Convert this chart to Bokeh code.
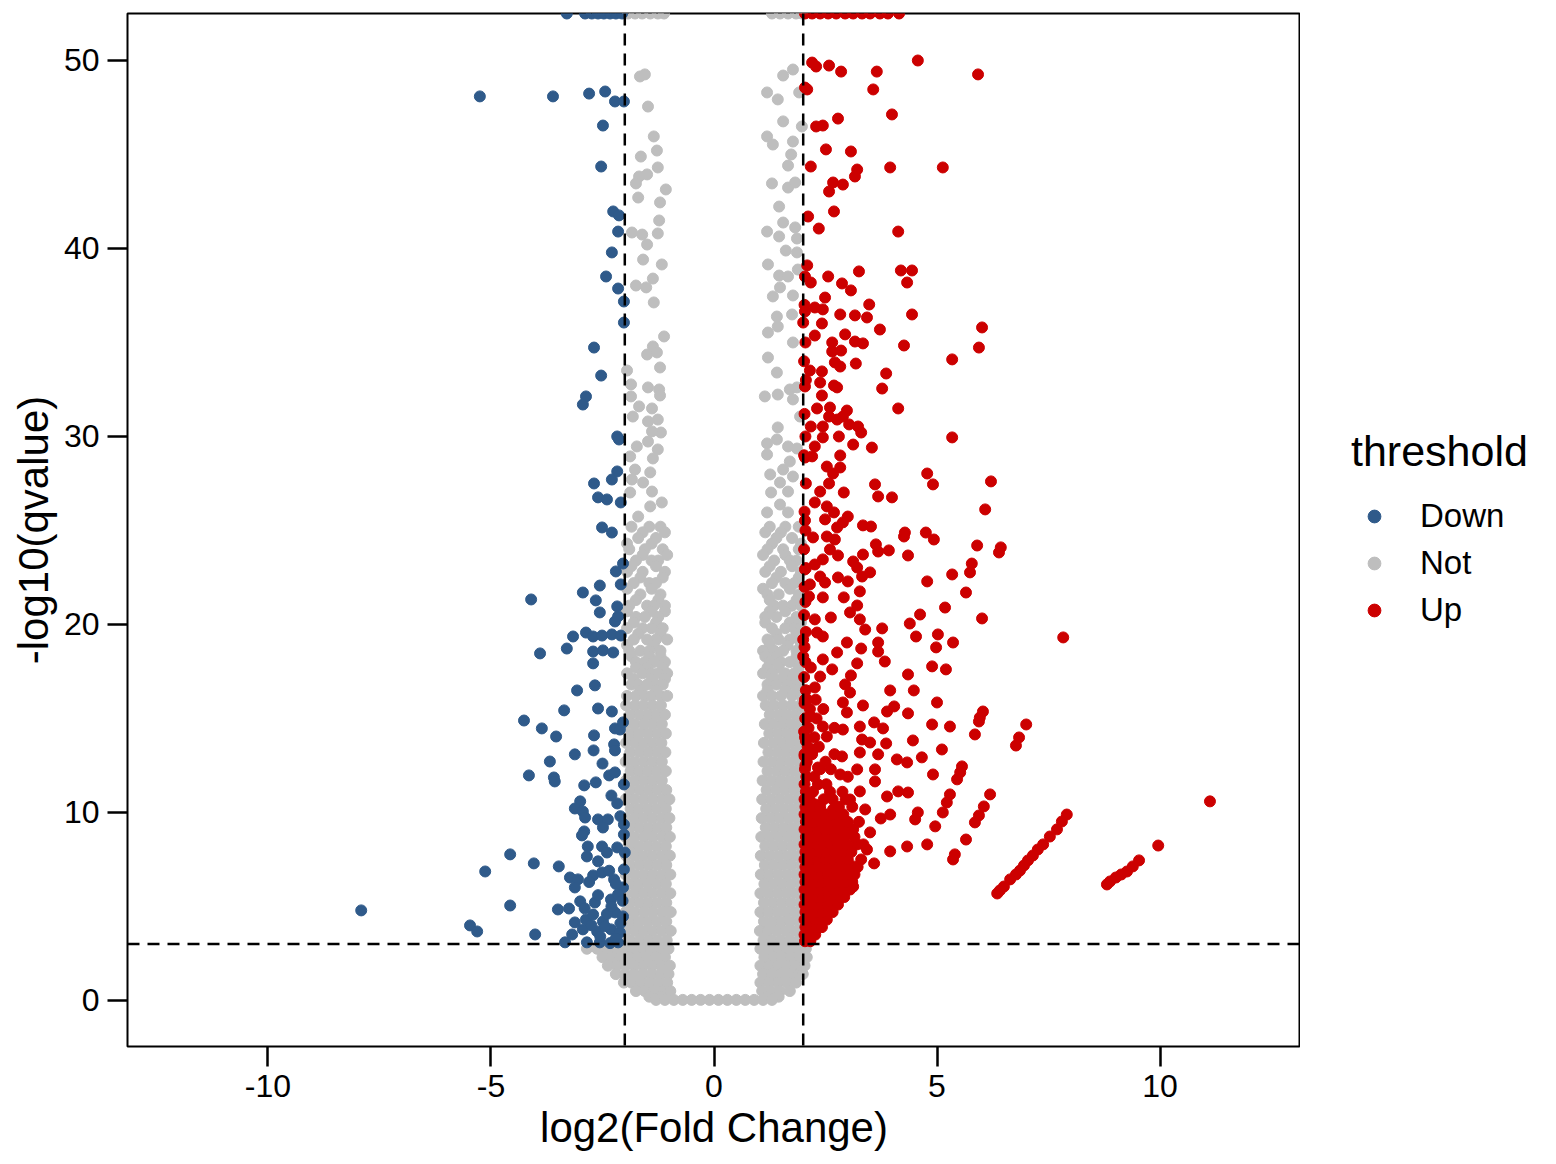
from bokeh.plotting import figure
from bokeh.layouts import row
from bokeh.models import Span, Legend, LegendItem, FixedTicker
from bokeh.embed import file_html
from bokeh.resources import INLINE

FONT = "Liberation Sans"

# cut-offs drawn as dashed lines
fc_cut = 2
q_cut = 3

x_ticks = [-10, -5, 0, 5, 10]
y_ticks = [0, 10, 20, 30, 40, 50]

groups = ["Down", "Not", "Up"]
colors = ["#2F5A8A", "#BEBEBE", "#CC0000"]

# points, (log2FC, -log10 q); 52.5 = pinned to the top edge
down_pts = [
    (-3.30, 52.5), (-2.89, 52.5), (-2.74, 52.5), (-2.60, 52.5), (-2.47, 52.5), (-2.33, 52.5), (-2.20, 52.5), (-2.06, 52.5),
    (-5.25, 48.09), (-3.61, 48.09), (-2.80, 48.24), (-2.44, 48.35), (-2.22, 47.82), (-2.02, 47.82), (-2.49, 46.54), (-2.53, 44.36),
    (-2.26, 41.97), (-2.13, 41.76), (-2.15, 40.90), (-2.29, 39.79), (-2.42, 38.51), (-2.15, 37.87), (-2.02, 37.18), (-2.02, 36.06),
    (-2.69, 34.73), (-2.53, 33.24), (-2.87, 32.13), (-2.94, 31.70), (-2.17, 30.00), (-2.13, 29.84), (-2.17, 28.14), (-2.29, 27.71),
    (-2.69, 27.50), (-2.60, 26.76), (-2.40, 26.65), (-2.09, 26.49), (-2.51, 25.16), (-2.29, 24.89), (-2.04, 23.24), (-2.20, 22.82),
    (-2.09, 22.13), (-2.94, 21.70), (-2.56, 22.07), (-4.10, 21.33), (-2.65, 21.28), (-2.56, 20.64), (-2.17, 20.96), (-2.22, 20.16),
    (-2.15, 20.43), (-2.87, 19.57), (-3.16, 19.36), (-2.71, 19.36), (-2.51, 19.41), (-2.29, 19.47), (-2.09, 19.41), (-3.30, 18.72),
    (-3.90, 18.46), (-2.71, 18.56), (-2.49, 18.62), (-2.26, 18.51), (-2.71, 17.93), (-3.07, 16.49), (-2.67, 16.76), (-3.36, 15.43),
    (-4.26, 14.89), (-2.60, 15.53), (-2.29, 15.37), (-3.86, 14.47), (-3.54, 14.04), (-2.69, 14.10), (-2.22, 14.47), (-2.11, 14.41),
    (-2.04, 14.79), (-2.24, 13.62), (-2.22, 13.30), (-3.12, 13.09), (-3.68, 12.71), (-4.15, 11.97), (-3.59, 11.86), (-3.57, 11.65),
    (-2.35, 11.97), (-2.22, 12.13), (-2.91, 11.44), (-2.65, 11.60), (-2.02, 11.49), (-3.00, 10.59), (-3.12, 10.21), (-2.94, 10.05),
    (-2.89, 9.73), (-2.17, 10.48), (-2.60, 9.63), (-2.38, 9.63), (-2.49, 9.20), (-2.02, 9.36), (-2.91, 8.99), (-2.96, 8.78),
    (-2.02, 8.83), (-2.83, 8.19), (-2.85, 7.66), (-2.51, 8.19), (-2.40, 7.87), (-2.17, 8.14), (-2.00, 7.87), (-4.57, 7.77),
    (-5.13, 6.86), (-4.04, 7.29), (-3.48, 7.13), (-3.23, 6.54), (-3.05, 6.44), (-3.12, 6.01), (-2.71, 6.65), (-2.51, 6.81),
    (-2.24, 6.44), (-2.02, 6.97), (-2.04, 6.01), (-3.00, 5.27), (-7.91, 4.79), (-4.57, 5.05), (-3.50, 4.84), (-3.25, 4.89),
    (-2.67, 5.21), (-2.31, 5.37), (-2.15, 5.64), (-3.12, 4.15), (-2.87, 4.31), (-2.71, 4.57), (-2.49, 4.20), (-2.22, 4.68),
    (-2.04, 4.47), (-5.47, 3.99), (-5.31, 3.67), (-4.01, 3.51), (-3.18, 3.51), (-2.94, 3.78), (-2.62, 3.67), (-2.31, 3.78),
    (-2.11, 3.62), (-3.34, 3.09), (-2.85, 3.09), (-2.56, 3.09), (-2.33, 3.05), (-2.15, 3.09),
    (-2.75, 4.0), (-2.55, 3.4), (-2.4, 4.6), (-2.2, 3.3), (-2.1, 4.1), (-2.3, 5.0), (-2.6, 5.6), (-2.9, 4.9),
    (-2.45, 3.95), (-2.05, 5.3), (-2.2, 6.2), (-2.8, 6.3), (-2.35, 6.9), (-2.6, 7.4), (-2.1, 9.8), (-2.3, 10.9),
    (-2.5, 12.6), (-2.7, 13.3),
]

not_pts = [
    (-1.93, 52.5), (-1.77, 52.5), (-1.61, 52.5), (-1.43, 52.5), (-1.26, 52.5), (-1.12, 52.5),
    (1.30, 52.5), (1.48, 52.5), (1.66, 52.5), (1.84, 52.5), (1.97, 52.5),
    (-1.66, 49.15), (-1.55, 49.26), (-1.48, 47.55), (-1.35, 45.96), (-1.28, 45.21), (-1.64, 44.89), (-1.26, 44.31),
    (-1.50, 43.94), (-1.68, 43.83), (-1.75, 43.46), (-1.08, 43.14), (-1.70, 42.71), (-1.21, 42.45), (-1.23, 41.49),
    (-1.84, 40.85), (-1.61, 40.74), (-1.26, 40.80), (-1.50, 40.21), (-1.59, 39.41), (-1.17, 39.15), (-1.37, 38.40),
    (-1.75, 38.03), (-1.52, 37.93), (-1.35, 37.13), (-1.12, 35.32), (-1.37, 34.79), (-1.50, 34.36), (-1.28, 34.47),
    (-1.21, 33.67), (-1.95, 33.51), (-1.86, 32.77), (-1.48, 32.61), (-1.23, 32.50), (-1.21, 32.18), (-1.86, 32.13),
    (-1.68, 31.60), (-1.39, 31.49), (-1.82, 31.06), (-1.48, 30.80), (-1.26, 30.90), (-1.19, 30.21), (-1.39, 30.27),
    (-1.73, 29.47), (-1.48, 29.73), (-1.26, 29.31), (-1.88, 28.94), (-1.37, 28.83), (-1.77, 28.24), (-1.43, 28.09),
    (-1.84, 27.71), (-1.59, 27.55), (-1.39, 27.07), (-1.88, 27.02), (-1.17, 26.49), (-1.43, 26.28), (-1.70, 25.74),
    (1.55, 49.20), (1.77, 49.52), (1.91, 48.30), (1.19, 48.30), (1.43, 47.93), (1.55, 46.76), (1.97, 46.49),
    (1.19, 45.96), (1.32, 45.53), (1.77, 45.69), (1.73, 45.00), (1.66, 44.41), (1.30, 43.46), (1.66, 43.24),
    (1.82, 43.51), (1.46, 42.23), (1.55, 41.38), (1.19, 40.90), (1.46, 40.64), (1.82, 41.12), (1.86, 40.53),
    (1.61, 39.89), (1.86, 39.79), (1.21, 39.15), (1.88, 38.88), (1.46, 38.56), (1.66, 38.51), (1.48, 37.93),
    (1.32, 37.45), (1.77, 37.50), (1.75, 36.49), (1.41, 36.38), (1.43, 35.85), (1.21, 35.53), (1.77, 35.00),
    (1.21, 34.20), (1.41, 33.40), (1.14, 32.13), (1.43, 32.23), (1.70, 32.50), (1.86, 32.61), (1.77, 31.97),
    (1.93, 31.06), (1.43, 30.48), (1.19, 29.63), (1.41, 29.84), (1.66, 29.47), (1.86, 29.36), (1.19, 29.04),
    (1.70, 28.67), (1.55, 28.24), (1.26, 27.98), (1.77, 27.87), (1.48, 27.55), (1.28, 27.02), (1.66, 27.07),
    (1.48, 26.38), (1.19, 25.96), (1.66, 25.96),
]

# the crowded lower part of the "Not" V, read row by row: (-log10 q, [log2FC, ...])
not_rows = [
    (25.2, [-1.85, -1.45, -1.2, 1.25, 1.6, 1.9]),
    (24.9, [-1.6, -1.1, 1.15, 1.5]),
    (24.6, [-1.7, -1.3, 1.4, 1.75]),
    (24.3, [-1.95, -1.4, 1.3, 1.95]),
    (24.0, [-1.9, -1.55, -1.15, 1.2, 1.55, 1.9]),
    (23.7, [-1.6, -1.05, 1.1, 1.6]),
    (23.4, [-1.75, -1.4, -1.25, 1.35, 1.7, 1.85]),
    (23.1, [-1.85, -1.3, 1.25, 1.75]),
    (22.8, [-1.95, -1.6, -1.1, 1.15, 1.5, 1.95]),
    (22.5, [-1.65, -1.15, 1.4, 1.9]),
    (22.2, [-1.8, -1.45, -1.3, 1.3, 1.6, 1.8]),
    (21.9, [-1.95, -1.4, 1.1, 1.7]),
    (21.6, [-1.65, -1.2, 1.2, 1.45, 1.9]),
    (21.3, [-1.75, -1.25, 1.25, 1.85]),
    (21.0, [-1.9, -1.5, -1.35, -1.1, 1.35, 1.55, 1.75, 1.95]),
    (20.7, [-1.95, -1.4, -1.1, 1.25, 1.6]),
    (20.4, [-1.75, -1.55, -1.25, 1.15, 1.4, 1.85]),
    (20.1, [-1.8, -1.3, 1.15, 1.7, 1.95]),
    (19.8, [-1.95, -1.6, -1.4, -1.15, 1.3, 1.6, 1.8, 1.95]),
    (19.5, [-1.7, -1.2, 1.4, 1.85]),
    (19.2, [-1.8, -1.5, -1.3, -1.05, 1.2, 1.45, 1.7, 1.9]),
    (18.9, [-1.95, -1.35, 1.25, 1.65, 1.95]),
    (18.6, [-1.9, -1.65, -1.45, -1.2, 1.1, 1.35, 1.55, 1.85]),
    (18.3, [-1.85, -1.45, -1.2, 1.15, 1.4, 1.85]),
    (18.0, [-1.75, -1.55, -1.35, -1.1, 1.25, 1.5, 1.7, 1.95]),
    (17.7, [-1.75, -1.5, -1.15, 1.2, 1.45, 1.9]),
    (17.4, [-1.95, -1.6, -1.4, -1.25, -1.05, 1.1, 1.3, 1.6, 1.8]),
    (17.1, [-1.8, -1.4, -1.1, 1.3, 1.5, 1.75]),
    (16.8, [-1.85, -1.7, -1.5, -1.3, -1.15, 1.2, 1.4, 1.65, 1.9]),
    (16.5, [-1.65, -1.3, 1.2, 1.6, 1.85]),
    (16.2, [-1.95, -1.75, -1.55, -1.4, -1.2, -1.05, 1.1, 1.3, 1.5, 1.75, 1.95]),
    (15.7, [-1.97, -1.77, -1.58, -1.38, -1.19, 1.16, 1.35, 1.55, 1.74, 1.93]),
    (15.2, [-1.88, -1.67, -1.47, -1.28, -1.1, 1.25, 1.45, 1.64, 1.84, 1.98]),
    (14.7, [-1.98, -1.78, -1.57, -1.37, -1.17, 1.14, 1.34, 1.54, 1.73, 1.93]),
    (14.2, [-1.87, -1.68, -1.48, -1.27, -1.08, 1.24, 1.44, 1.63, 1.83, 1.98]),
    (13.7, [-1.97, -1.77, -1.58, -1.38, -1.18, 1.12, 1.33, 1.53, 1.72, 1.92]),
    (13.2, [-1.88, -1.67, -1.47, -1.27, -1.09, 1.22, 1.43, 1.62, 1.82, 1.98]),
    (12.7, [-1.98, -1.78, -1.57, -1.37, -1.17, 1.11, 1.31, 1.51, 1.71, 1.91]),
    (12.2, [-1.87, -1.68, -1.48, -1.28, -1.08, 1.2, 1.41, 1.6, 1.8, 1.97]),
    (11.7, [-1.97, -1.77, -1.58, -1.38, -1.17, 1.09, 1.29, 1.5, 1.7, 1.9]),
    (11.2, [-1.88, -1.67, -1.47, -1.27, -1.07, 1.18, 1.39, 1.59, 1.79, 1.97]),
    (10.7, [-1.98, -1.78, -1.57, -1.37, -1.16, -1.0, 1.08, 1.28, 1.48, 1.68, 1.88]),
    (10.2, [-1.87, -1.68, -1.48, -1.28, -1.08, 1.17, 1.37, 1.57, 1.77, 1.97]),
    (9.7, [-1.97, -1.77, -1.58, -1.38, -1.17, -1.0, 1.07, 1.27, 1.47, 1.67, 1.87]),
    (9.2, [-1.88, -1.67, -1.47, -1.27, -1.07, 1.16, 1.36, 1.56, 1.76, 1.96]),
    (8.7, [-1.98, -1.78, -1.57, -1.37, -1.16, -0.99, 1.06, 1.26, 1.46, 1.66, 1.86]),
    (8.2, [-1.87, -1.68, -1.48, -1.28, -1.08, 1.15, 1.35, 1.55, 1.75, 1.95]),
    (7.7, [-1.97, -1.77, -1.58, -1.38, -1.17, -0.99, 1.05, 1.25, 1.45, 1.65, 1.85]),
    (7.2, [-1.88, -1.67, -1.47, -1.27, -1.07, 1.14, 1.34, 1.54, 1.74, 1.95]),
    (6.7, [-1.98, -1.78, -1.57, -1.37, -1.16, -0.98, 1.05, 1.24, 1.44, 1.64, 1.84]),
    (6.2, [-1.87, -1.68, -1.48, -1.28, -1.08, 1.13, 1.33, 1.53, 1.73, 1.94]),
    (5.7, [-1.97, -1.77, -1.58, -1.38, -1.17, -0.98, 1.04, 1.23, 1.43, 1.63, 1.83, 1.98]),
    (5.2, [-1.88, -1.67, -1.47, -1.27, -1.07, 1.12, 1.32, 1.52, 1.72, 1.93]),
    (4.7, [-1.98, -1.78, -1.57, -1.37, -1.16, -0.97, 1.04, 1.22, 1.42, 1.62, 1.82, 1.98]),
    (4.2, [-1.87, -1.68, -1.48, -1.28, -1.07, 1.12, 1.31, 1.51, 1.71, 1.92]),
    (3.7, [-1.97, -1.77, -1.58, -1.38, -1.17, -0.97, 1.03, 1.21, 1.41, 1.61, 1.81, 1.98]),
    (3.2, [-1.88, -1.67, -1.47, -1.27, -1.06, 1.11, 1.3, 1.5, 1.7, 1.91]),
    (2.75, [-2.85, -2.62, -2.42, -2.22, -2.02, -1.82, -1.62, -1.42, -1.22, -1.02, 1.04, 1.24, 1.44, 1.64, 1.85, 2.06]),
    (2.3, [-2.5, -2.3, -2.1, -1.9, -1.7, -1.5, -1.3, -1.1, 1.13, 1.33, 1.53, 1.73, 1.93, 2.08]),
    (1.85, [-2.38, -2.18, -1.98, -1.78, -1.58, -1.38, -1.18, -0.99, 1.04, 1.24, 1.44, 1.64, 1.84, 2.03]),
    (1.4, [-2.2, -2.0, -1.8, -1.6, -1.4, -1.2, -1.02, 1.1, 1.3, 1.5, 1.7, 1.9, 1.99]),
    (0.95, [-2.02, -1.85, -1.65, -1.45, -1.25, -1.05, 1.04, 1.24, 1.44, 1.64, 1.84]),
    (0.5, [-1.75, -1.55, -1.35, -1.15, -0.98, 1.08, 1.28, 1.48, 1.7]),
    (0.2, [-1.45, -1.2, 1.2, 1.45]),
    (0.03, [-1.3, -1.1, -0.9, -0.7, -0.5, -0.3, -0.1, 0.1, 0.3, 0.5, 0.7, 0.9, 1.1, 1.3]),
]

up_pts = [
    (2.04, 52.5), (2.20, 52.5), (2.38, 52.5), (2.56, 52.5), (2.74, 52.5), (2.94, 52.5), (3.12, 52.5), (3.32, 52.5),
    (3.50, 52.5), (3.72, 52.5), (3.90, 52.5), (4.15, 52.5),
    (2.20, 49.89), (2.29, 49.68), (2.58, 49.73), (2.85, 49.41), (3.65, 49.41), (4.57, 50.0), (5.92, 49.26), (2.04, 48.56),
    (2.09, 48.46), (3.57, 48.46), (3.99, 47.13), (2.78, 46.91), (2.29, 46.49), (2.44, 46.54), (2.51, 45.27), (3.07, 45.16),
    (2.17, 44.36), (3.21, 44.20), (3.16, 43.83), (3.95, 44.31), (5.13, 44.31), (2.67, 43.51), (2.89, 43.40), (2.58, 43.03),
    (2.69, 41.97), (2.11, 41.70), (2.35, 41.06), (4.13, 40.90), (2.09, 39.10), (2.04, 38.51), (2.17, 38.19), (2.56, 38.51),
    (3.25, 38.78), (4.19, 38.83), (4.44, 38.83), (4.33, 38.19), (2.87, 38.14), (3.07, 37.77), (2.49, 37.39), (3.48, 37.02),
    (2.04, 36.65), (2.26, 36.86), (2.44, 36.76), (2.83, 36.49), (3.16, 36.44), (3.43, 36.33), (4.44, 36.49), (2.00, 36.06),
    (2.42, 36.01), (3.72, 35.69), (6.01, 35.80), (2.26, 35.37), (2.94, 35.43), (2.65, 35.00), (3.16, 35.05), (3.34, 34.95),
    (4.26, 34.84), (5.94, 34.73), (2.65, 34.52), (2.85, 34.57), (5.34, 34.10), (2.71, 33.94), (3.18, 33.88), (2.83, 33.72),
    (2.15, 33.51), (2.42, 33.46), (3.86, 33.35), (2.38, 32.87), (2.69, 32.71), (2.76, 32.61), (3.77, 32.55), (2.04, 32.66),
    (2.42, 32.18), (2.31, 31.49), (2.60, 31.54), (2.98, 31.38), (4.13, 31.49), (2.58, 31.06), (2.76, 30.90), (2.89, 31.06),
    (2.17, 30.53), (2.44, 30.53), (3.03, 30.64), (3.23, 30.53), (3.30, 30.21), (2.44, 29.95), (2.80, 30.00), (5.34, 29.95),
    (2.26, 29.47), (3.12, 29.57), (3.54, 29.41), (2.20, 28.94), (2.83, 28.99), (2.04, 28.88), (2.53, 28.40), (2.83, 28.35),
    (2.67, 28.03), (4.78, 28.03), (2.58, 27.50), (3.61, 27.45), (4.91, 27.45), (6.21, 27.61), (2.38, 27.07), (2.91, 27.02),
    (3.68, 26.81), (3.99, 26.76), (2.26, 26.49), (2.53, 26.28), (2.69, 25.96), (2.49, 25.59), (6.08, 26.12), (2.04, 25.53),
    (3.00, 25.74), (2.89, 25.43), (2.76, 25.16), (3.34, 25.27), (3.52, 25.21), (2.22, 24.63), (2.53, 24.68), (2.71, 24.52),
    (4.28, 24.89), (4.26, 24.68), (4.75, 24.89), (4.93, 24.52), (2.60, 23.99), (3.63, 24.26), (3.68, 23.88), (3.92, 23.94),
    (5.90, 24.20), (6.43, 24.10), (6.39, 23.83), (2.78, 23.67), (3.34, 23.72), (4.35, 23.67), (2.44, 23.46), (2.26, 23.19),
    (3.12, 23.35), (3.21, 23.03), (5.78, 23.24), (5.74, 22.77), (2.04, 22.93), (2.38, 22.55), (2.78, 22.50), (3.00, 22.29),
    (3.50, 22.77), (3.32, 22.55), (5.34, 22.66), (2.15, 22.13), (2.49, 22.23), (4.78, 22.29), (3.27, 21.76), (5.65, 21.70),
    (2.13, 21.49), (2.44, 21.44), (2.91, 21.44), (3.21, 21.01), (5.18, 20.90), (3.05, 20.64), (3.27, 20.27), (3.39, 19.73),
    (3.77, 19.79), (4.62, 20.53), (4.39, 20.05), (4.53, 19.36), (6.01, 20.32), (2.26, 20.27), (2.62, 20.37), (2.31, 19.57),
    (2.44, 19.36), (2.00, 19.20), (5.02, 19.47), (4.98, 18.78), (5.36, 19.04), (2.98, 19.04), (3.30, 18.72), (3.68, 19.04),
    (3.68, 18.56), (2.76, 18.51), (2.00, 18.30), (2.44, 18.14), (2.17, 17.71), (2.65, 17.61), (3.21, 17.93), (3.83, 18.03),
    (4.89, 17.77), (5.20, 17.61), (2.38, 17.23), (3.07, 17.29), (4.35, 17.34), (2.94, 16.81), (2.26, 16.65), (3.05, 16.38),
    (3.95, 16.49), (4.48, 16.49), (2.89, 15.85), (3.34, 15.69), (3.88, 15.37), (4.04, 15.64), (5.00, 15.85), (6.03, 15.37),
    (5.96, 15.05), (5.85, 14.15), (5.94, 14.84), (2.09, 16.01), (2.17, 15.11), (2.98, 15.32), (4.35, 15.27), (2.44, 14.57),
    (3.27, 14.57), (3.59, 14.79), (3.79, 14.47), (4.89, 14.68), (5.29, 14.57), (7.00, 14.68), (6.84, 13.99), (6.77, 13.56),
    (2.53, 14.04), (2.89, 14.41), (3.32, 13.88), (3.50, 13.72), (3.86, 13.67), (4.46, 13.83), (5.11, 13.35), (2.22, 13.35),
    (2.87, 12.98), (3.27, 13.19), (3.68, 13.09), (4.10, 12.82), (4.33, 12.66), (4.66, 12.93), (5.56, 12.45), (5.52, 12.13),
    (5.45, 11.76), (4.91, 12.02), (2.33, 12.39), (2.83, 12.02), (3.21, 12.29), (3.61, 12.29), (3.61, 11.65), (3.27, 11.12),
    (3.88, 10.85), (4.13, 11.12), (4.35, 11.06), (5.29, 10.96), (5.22, 10.53), (5.13, 10.00), (6.19, 10.96), (6.05, 10.32),
    (5.94, 9.84), (5.85, 9.47), (5.65, 8.56), (5.36, 7.50), (5.40, 7.77), (2.26, 10.43), (2.67, 10.16), (3.05, 10.69),
    (3.39, 10.16), (4.57, 10.00), (4.51, 9.63), (3.74, 9.68), (3.95, 9.89), (2.31, 9.79), (2.83, 9.63), (3.12, 9.10),
    (4.96, 9.26), (4.78, 8.30), (4.33, 8.19), (3.95, 7.93), (3.59, 7.29), (3.50, 8.94), (3.21, 8.30), (2.83, 8.94),
    (2.44, 8.40), (7.91, 9.89), (7.80, 9.52), (7.69, 9.10), (7.53, 8.72), (7.38, 8.30), (7.26, 8.03), (7.15, 7.71),
    (7.04, 7.45), (6.95, 7.18), (6.86, 6.91), (6.77, 6.70), (6.64, 6.44), (6.50, 6.06), (6.41, 5.85), (6.35, 5.69),
    (7.83, 19.31), (11.12, 10.59), (9.96, 8.24), (9.53, 7.45), (9.39, 7.13), (9.26, 6.86), (9.13, 6.70), (9.01, 6.54),
    (8.88, 6.33), (8.81, 6.17), (2.15, 7.50), (2.60, 7.34), (3.12, 7.13), (3.43, 8.03), (2.83, 6.06), (3.12, 6.06),
    (2.44, 5.74),
    (2.05, 12.5), (2.03, 13.0), (2.06, 13.8), (2.02, 14.3), (2.05, 15.0), (2.03, 15.8), (2.06, 16.5), (2.02, 17.2),
    (2.05, 18.0), (2.03, 18.8), (2.06, 19.6), (2.02, 20.5), (2.05, 21.2), (2.03, 22.0), (2.06, 23.0), (2.02, 24.0),
    (2.05, 25.0), (2.03, 26.0), (2.06, 27.5), (2.02, 29.0), (2.05, 30.0), (2.03, 31.2), (2.06, 33.0), (2.02, 34.0),
    (2.05, 35.0), (2.03, 37.0),
]

# crowded base of the "Up" wedge, row by row
up_rows = [
    (3.15, [2.04, 2.16]),
    (3.5, [2.03, 2.15, 2.27]),
    (3.9, [2.05, 2.18, 2.31, 2.42]),
    (4.3, [2.03, 2.15, 2.28, 2.41, 2.53]),
    (4.7, [2.05, 2.18, 2.31, 2.44, 2.57, 2.66]),
    (5.1, [2.03, 2.16, 2.29, 2.42, 2.55, 2.68, 2.78]),
    (5.5, [2.05, 2.18, 2.31, 2.44, 2.57, 2.7, 2.83, 2.92]),
    (5.9, [2.03, 2.16, 2.29, 2.42, 2.55, 2.68, 2.81, 2.94, 3.05]),
    (6.3, [2.05, 2.18, 2.31, 2.44, 2.57, 2.7, 2.83, 2.96, 3.1]),
    (6.7, [2.03, 2.16, 2.29, 2.42, 2.55, 2.68, 2.81, 2.95, 3.15]),
    (7.1, [2.05, 2.18, 2.31, 2.45, 2.6, 2.75, 2.9, 3.05, 3.22]),
    (7.5, [2.03, 2.17, 2.32, 2.5, 2.66, 2.84, 3.0, 3.3]),
    (7.9, [2.05, 2.2, 2.36, 2.52, 2.7, 2.9, 3.08]),
    (8.3, [2.03, 2.16, 2.3, 2.47, 2.62, 2.78, 2.98, 3.35]),
    (8.7, [2.06, 2.22, 2.38, 2.55, 2.7, 2.92, 3.15]),
    (9.1, [2.03, 2.18, 2.33, 2.48, 2.64, 2.85, 3.05]),
    (9.5, [2.06, 2.22, 2.4, 2.58, 2.75, 3.0, 3.25]),
    (9.9, [2.03, 2.15, 2.3, 2.5, 2.68, 2.9]),
    (10.3, [2.05, 2.2, 2.38, 2.8, 3.1]),
    (10.7, [2.03, 2.14, 2.46, 2.66, 2.95]),
    (11.1, [2.06, 2.22, 2.6, 2.88]),
    (11.5, [2.03, 2.33, 2.52]),
    (11.9, [2.07, 2.25, 3.0]),
    (12.3, [2.04, 2.38, 2.62]),
    (12.7, [2.08, 2.5]),
    (13.1, [2.03, 2.2, 2.7]),
    (13.5, [2.1, 2.35]),
    (14.0, [2.04, 2.25]),
    (14.5, [2.12, 2.7]),
    (15.0, [2.05, 2.3]),
    (15.5, [2.15, 2.45]),
    (16.0, [2.04, 2.28]),
]


def split(pts, rows=()):
    xs = [x for x, y in pts]
    ys = [y for x, y in pts]
    for y, row_xs in rows:
        for x in row_xs:
            xs.append(x)
            ys.append(y)
    return xs, ys


p = figure(frame_width=1173, frame_height=1033,
           x_range=(-13.15, 13.15), y_range=(-2.45, 52.5),
           min_border_left=127, min_border_top=13, min_border_bottom=105, min_border_right=0,
           output_backend="svg", toolbar_location=None)

nx, ny = split(not_pts, not_rows)
dx, dy = split(down_pts)
ux, uy = split(up_pts, up_rows)

p.scatter(nx, ny, size=11, color=colors[1])
p.scatter(dx, dy, size=11, color=colors[0])
p.scatter(ux, uy, size=11, color=colors[2])

for loc, dim in [(-fc_cut, "height"), (fc_cut, "height"), (q_cut, "width")]:
    p.add_layout(Span(location=loc, dimension=dim, line_color="black",
                      line_dash="12 8", line_width=2.5))

p.xaxis.ticker = FixedTicker(ticks=x_ticks)
p.yaxis.ticker = FixedTicker(ticks=y_ticks)
p.xaxis.major_label_overrides = {t: str(t) for t in x_ticks}
p.xaxis.axis_label = "log2(Fold Change)"
p.yaxis.axis_label = "-log10(qvalue)"
for ax in p.axis:
    ax.axis_line_color = None
    ax.major_tick_out = 20
    ax.major_tick_in = 0
    ax.major_tick_line_width = 2.5
    ax.major_tick_line_color = "black"
    ax.minor_tick_out = 0
    ax.minor_tick_in = 0
    ax.major_label_text_font = FONT
    ax.major_label_text_font_size = "32px"
    ax.major_label_text_color = "black"
    ax.major_label_standoff = 8
    ax.axis_label_text_font = FONT
    ax.axis_label_text_font_size = "42px"
    ax.axis_label_text_font_style = "normal"
    ax.axis_label_text_color = "black"
    ax.axis_label_standoff = 4

p.xgrid.grid_line_color = None
p.ygrid.grid_line_color = None
p.outline_line_color = "black"
p.outline_line_width = 2
p.background_fill_color = "white"
p.border_fill_color = "white"

# legend lives in a slim blank figure to the right of the plot;
# its key renderers hold one point each, parked outside that figure's range
lg = figure(width=250, height=1151, x_range=(0, 1), y_range=(0, 1),
            min_border=0, x_axis_location=None, y_axis_location=None,
            output_backend="svg", toolbar_location=None)
lg.xgrid.grid_line_color = None
lg.ygrid.grid_line_color = None
lg.outline_line_color = None
keys = [lg.scatter([5], [5], size=11, color=c) for c in colors]

legend = Legend(items=[LegendItem(label=g, renderers=[r], index=0) for g, r in zip(groups, keys)],
                title="threshold", location=(51, 411))
legend.title_text_font = FONT
legend.title_text_font_size = "43px"
legend.title_text_font_style = "normal"
legend.title_text_color = "black"
legend.title_standoff = 16
legend.label_text_font = FONT
legend.label_text_font_size = "33px"
legend.label_text_color = "black"
legend.glyph_width = 46
legend.glyph_height = 32
legend.label_height = 47
legend.label_standoff = 23
legend.spacing = 0
legend.padding = 10
legend.margin = 0
legend.border_line_color = None
legend.background_fill_alpha = 0
lg.add_layout(legend)

page = row(p, lg)
open("out.html", "w").write(file_html(page, INLINE))
